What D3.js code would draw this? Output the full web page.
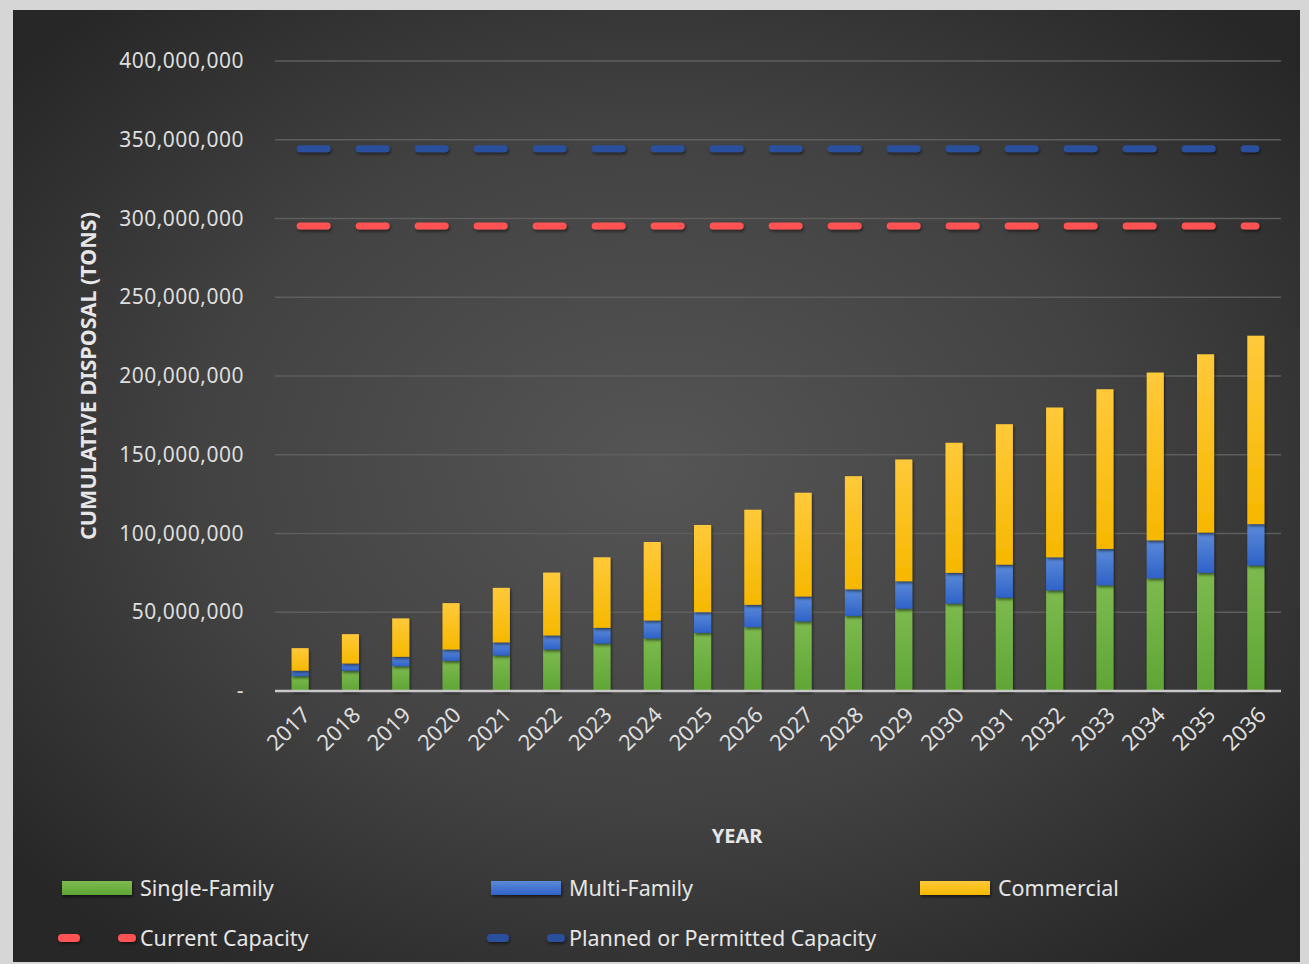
<!DOCTYPE html>
<html>
<head>
<meta charset="utf-8">
<script src="https://cdn.jsdelivr.net/npm/d3@7"></script>
<style>
  html, body { margin: 0; padding: 0; background: #d4d4d4; }
  svg { display: block; }
</style>
</head>
<body>
<svg id="chart" width="1309" height="964"></svg>
<script>
const years = ["2017","2018","2019","2020","2021","2022","2023","2024","2025","2026","2027","2028","2029","2030","2031","2032","2033","2034","2035","2036"];
const singleFamily = [9.5,12.9,15.8,19.2,22.6,26.4,30.2,33.4,36.9,40.6,44.2,47.7,52.2,55.5,59.3,63.9,67.2,71.6,75.0,79.7].map(v => v * 1e6);
const multiFamily  = [3.4,4.6,5.9,7.2,8.3,8.9,9.9,11.4,13.2,14.1,15.8,16.9,17.5,19.5,20.9,21.0,23.0,24.1,25.6,26.3].map(v => v * 1e6);
const commercial   = [14.3,18.6,24.4,29.4,34.6,39.9,44.8,49.8,55.3,60.4,65.9,71.8,77.3,82.6,89.2,95.1,101.4,106.5,113.2,119.6].map(v => v * 1e6);
const currentCapacity = years.map(() => 295300000);
const plannedCapacity = years.map(() => 344300000);
const yTicks = [0,50000000,100000000,150000000,200000000,250000000,300000000,350000000,400000000];

const seriesNames = ["Single-Family","Multi-Family","Commercial"];
const seriesColors = {
  "Single-Family": ["#7dba4f","#5fa535"],
  "Multi-Family": ["#5b8ad8","#2f62c8"],
  "Commercial": ["#ffc93a","#f6b800"]
};

const svg = d3.select("#chart");
const W = 1309, H = 964;
const plot = {left: 275, right: 1281, top: 61, bottom: 691};

const defs = svg.append("defs");
const bg = defs.append("radialGradient").attr("id","bgGrad")
  .attr("cx","50%").attr("cy","48%").attr("r","65%");
bg.append("stop").attr("offset","0%").attr("stop-color","#555555");
bg.append("stop").attr("offset","55%").attr("stop-color","#424242");
bg.append("stop").attr("offset","100%").attr("stop-color","#272727");

seriesNames.forEach((s,i) => {
  const g = defs.append("linearGradient").attr("id","g"+i)
    .attr("x1","0").attr("y1","0").attr("x2","0").attr("y2","1");
  g.append("stop").attr("offset","0%").attr("stop-color",seriesColors[s][0]);
  g.append("stop").attr("offset","100%").attr("stop-color",seriesColors[s][1]);
});
const sh = defs.append("filter").attr("id","shadow").attr("x","-30%").attr("y","-30%").attr("width","160%").attr("height","160%");
sh.append("feDropShadow").attr("dx",1).attr("dy",2).attr("stdDeviation",1.5).attr("flood-color","#000").attr("flood-opacity",0.55);
const sh2 = defs.append("filter").attr("id","lshadow").attr("filterUnits","userSpaceOnUse")
  .attr("x",0).attr("y",0).attr("width",W).attr("height",H);
sh2.append("feDropShadow").attr("dx",1).attr("dy",2).attr("stdDeviation",1.5).attr("flood-color","#000").attr("flood-opacity",0.5);

// panel
svg.append("rect").attr("x",0).attr("y",0).attr("width",W).attr("height",H).attr("fill","#d6d6d6");
svg.append("rect").attr("x",13).attr("y",10).attr("width",1287).attr("height",952).attr("fill","url(#bgGrad)");

const x = d3.scaleBand().domain(years).range([plot.left, plot.right]).paddingInner(0.66).paddingOuter(0.33);
const y = d3.scaleLinear().domain([0,400000000]).range([plot.bottom, plot.top]);

// gridlines
svg.append("g").selectAll("line").data(yTicks.filter(d => d > 0)).join("line")
  .attr("x1",plot.left).attr("x2",plot.right)
  .attr("y1",d => y(d)).attr("y2",d => y(d))
  .attr("stroke","#5e5e5e").attr("stroke-width",1.5);

// y axis labels
const yAxis = d3.axisLeft(y).tickValues(yTicks)
  .tickFormat(d => d === 0 ? "-" : d3.format(",")(d)).tickSize(0).tickPadding(0);
const yg = svg.append("g").attr("transform",`translate(${244},0)`).call(yAxis);
yg.select(".domain").remove();
yg.selectAll("text").attr("fill","#dedede").style("font-family","'Noto Sans', sans-serif")
  .style("font-size","21px").style("letter-spacing","0.5px");

// stacked bars
const table = years.map((yr,i) => ({year: yr, "Single-Family": singleFamily[i], "Multi-Family": multiFamily[i], "Commercial": commercial[i]}));
const stack = d3.stack().keys(seriesNames)(table);
const barsG = svg.append("g");
stack.forEach((layer, li) => {
  barsG.append("g").attr("filter","url(#shadow)").selectAll("rect").data(layer).join("rect")
    .attr("x", d => x(d.data.year))
    .attr("width", x.bandwidth())
    .attr("y", d => y(d[1]))
    .attr("height", d => y(d[0]) - y(d[1]))
    .attr("fill", `url(#g${li})`);
});

// baseline axis
const xAxis = d3.axisBottom(x).tickSize(0).tickPadding(0);
const xg = svg.append("g").attr("transform",`translate(0,${plot.bottom})`).call(xAxis);
xg.select(".domain").attr("stroke","#c8c8c8").attr("stroke-width",2.5)
  .attr("d", `M${plot.left},0H${plot.right}`);
xg.selectAll("text")
  .attr("fill","#dedede").style("font-family","'Noto Sans', sans-serif").style("font-size","22px")
  .attr("text-anchor","end")
  .attr("dy","0.35em")
  .attr("transform","translate(6,20) rotate(-45)");

// capacity lines
const lineGen = d3.line().x((d,i) => x(years[i]) + x.bandwidth()/2).y(d => y(d));
svg.append("path").datum(plannedCapacity).attr("d", lineGen)
  .attr("fill","none").attr("stroke","#2c4f9c").attr("stroke-width",7)
  .attr("stroke-linecap","round").attr("stroke-dasharray","27,32").attr("filter","url(#lshadow)");
svg.append("path").datum(currentCapacity).attr("d", lineGen)
  .attr("fill","none").attr("stroke","#ff5252").attr("stroke-width",7)
  .attr("stroke-linecap","round").attr("stroke-dasharray","27,32").attr("filter","url(#lshadow)");

// axis titles
svg.append("text").attr("transform","translate(96,376) rotate(-90)")
  .attr("text-anchor","middle").attr("fill","#e6e6e6")
  .style("font-family","'Noto Sans', sans-serif").style("font-weight","bold").style("font-size","21.5px")
  .text("CUMULATIVE DISPOSAL (TONS)");
svg.append("text").attr("x",737).attr("y",843)
  .attr("text-anchor","middle").attr("fill","#e6e6e6")
  .style("font-family","'Noto Sans', sans-serif").style("font-weight","bold").style("font-size","20px")
  .text("YEAR");

// legend
const legendItems = [
  {name:"Single-Family", type:"rect", fill:"url(#g0)", x:62, y:888},
  {name:"Multi-Family", type:"rect", fill:"url(#g1)", x:491, y:888},
  {name:"Commercial", type:"rect", fill:"url(#g2)", x:920, y:888},
  {name:"Current Capacity", type:"line", stroke:"#ff5252", x:62, y:938},
  {name:"Planned or Permitted Capacity", type:"line", stroke:"#2c4f9c", x:491, y:938}
];
const lg = svg.append("g");
legendItems.forEach(it => {
  if (it.type === "rect") {
    lg.append("rect").attr("x",it.x).attr("y",it.y-7).attr("width",70).attr("height",14)
      .attr("fill",it.fill).attr("filter","url(#shadow)");
  } else {
    lg.append("line").attr("x1",it.x).attr("x2",it.x+70).attr("y1",it.y).attr("y2",it.y)
      .attr("stroke",it.stroke).attr("stroke-width",8).attr("stroke-linecap","round")
      .attr("stroke-dasharray","14,46").attr("filter","url(#lshadow)");
  }
  lg.append("text").attr("x",it.x+78).attr("y",it.y).attr("dy","0.35em")
    .attr("fill","#e6e6e6").style("font-family","'Noto Sans', sans-serif").style("font-size","21.5px")
    .text(it.name);
});
</script>
</body>
</html>
